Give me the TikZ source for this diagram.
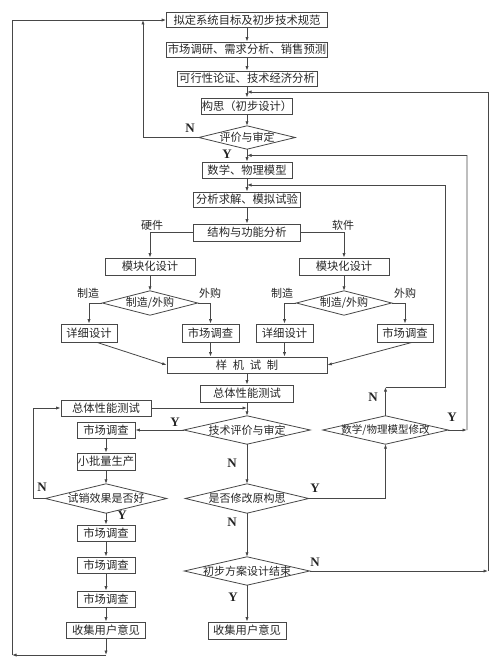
\documentclass[tikz,border=0pt]{standalone}
\usepackage{fontspec}
\setmainfont{Liberation Serif}
\newfontfamily\cjk{Noto Sans CJK SC}
\usetikzlibrary{arrows.meta,calc}
\begin{document}
\begin{tikzpicture}[x=1pt,y=-1pt,
  ln/.style={draw=black!72, line width=0.8pt},
  arr/.style={ln, -{Latex[length=4.5pt,width=3.2pt]}},
  box/.style={draw=black!72, line width=0.8pt, inner sep=0pt, font=\cjk\fontsize{11.3}{13}\selectfont, text=black!85},
  dia/.style={inner sep=0pt, font=\cjk\fontsize{11}{12}\selectfont, text=black!85},
  lab/.style={font=\bfseries\fontsize{13}{14}\selectfont, text=black!85, inner sep=0pt},
  clab/.style={font=\cjk\fontsize{11}{13}\selectfont, text=black!85, inner sep=0pt}]
\useasboundingbox (0,0) rectangle (500,658);

% main column
\node[box, minimum width=161, minimum height=15] (b1) at (247,20) {拟定系统目标及初步技术规范};
\node[box, minimum width=161, minimum height=15] (b2) at (247,49.5) {市场调研、需求分析、销售预测};
\node[box, minimum width=140, minimum height=15] (b3) at (247,78.5) {可行性论证、技术经济分析};
\node[box, minimum width=89, minimum height=16] (b4) at (247,106) {构思（初步设计）};
\node[dia, minimum width=96, minimum height=23] (d1) at (247,137.5) {评价与审定};
\node[box, minimum width=90, minimum height=16] (b5) at (247,170) {数学、物理模型};
\node[box, minimum width=107, minimum height=15] (b6) at (247,199.5) {分析求解、模拟试验};
\node[box, minimum width=107, minimum height=17] (b7) at (247,232.5) {结构与功能分析};

% branches
\node[box, minimum width=90, minimum height=17] (b8L) at (150,266.5) {模块化设计};
\node[box, minimum width=90, minimum height=17] (b8R) at (344,266.5) {模块化设计};
\node[dia, minimum width=95, minimum height=24] (d2L) at (150,303) {制造/外购};
\node[dia, minimum width=95, minimum height=24] (d2R) at (344,303) {制造/外购};
\node[box, minimum width=56, minimum height=18] (b9a) at (89,333) {详细设计};
\node[box, minimum width=57, minimum height=18] (b9b) at (210.5,333) {市场调查};
\node[box, minimum width=57, minimum height=18] (b9c) at (284.5,333) {详细设计};
\node[box, minimum width=56, minimum height=18] (b9d) at (405,333) {市场调查};
\node[box, minimum width=160, minimum height=16] (b10) at (247,365) {样\hspace{0.5em}机\hspace{0.5em}试\hspace{0.5em}制};
\node[box, minimum width=93, minimum height=17] (b11) at (247,393.5) {总体性能测试};

% lower part
\node[box, minimum width=90, minimum height=16] (b12) at (106,408) {总体性能测试};
\node[dia, minimum width=126, minimum height=28] (d3) at (247,430) {技术评价与审定};
\node[box, minimum width=58, minimum height=16] (b13) at (106,430) {市场调查};
\node[box, minimum width=58, minimum height=17] (b14) at (106,461.5) {小批量生产};
\node[dia, minimum width=121, minimum height=29] (d4) at (106,498.5) {试销效果是否好};
\node[dia, minimum width=123, minimum height=29] (d5) at (247,498.5) {是否修改原构思};
\node[dia, minimum width=125, minimum height=28, font=\cjk\fontsize{10.5}{12}\selectfont] (d6) at (385.5,430) {数学/物理模型修改};
\node[box, minimum width=58, minimum height=16] (b15) at (106,533) {市场调查};
\node[box, minimum width=58, minimum height=16] (b16) at (106,565) {市场调查};
\node[box, minimum width=58, minimum height=16] (b17) at (106,599) {市场调查};
\node[box, minimum width=79, minimum height=16] (b18) at (106,630) {收集用户意见};
\node[dia, minimum width=125, minimum height=28] (d7) at (247,571) {初步方案设计结束};
\node[box, minimum width=78, minimum height=17] (b19) at (247,630.5) {收集用户意见};

% diamonds outlines
\foreach \d in {d1,d2L,d2R,d3,d4,d5,d6,d7}
  \draw[ln] (\d.west) -- (\d.north) -- (\d.east) -- (\d.south) -- cycle;

% coordinates
\coordinate (LB) at (12,655);
\coordinate (n1) at (143,20);
\coordinate (m34) at ($(b3.south)!.5!(b4.north)$);
\coordinate (md1) at ($(d1.south)!.5!(b5.north)$);
\coordinate (m56) at ($(b5.south)!.5!(b6.north)$);
\coordinate (c445) at (445,387);
\coordinate (c467) at (467,155.5);
\coordinate (c488) at (488,92);

% main flow
\draw[arr] (b1) -- (b2);
\draw[arr] (b2) -- (b3);
\draw[arr] (b3) -- (b4);
\draw[arr] (b4) -- (d1.north);
\draw[arr] (d1.south) -- (b5);
\draw[arr] (b5) -- (b6);
\draw[arr] (b6) -- (b7);
\draw[arr] (b7.west) -| (b8L.north);
\draw[arr] (b7.east) -| (b8R.north);
\draw[arr] (b8L) -- (d2L.north);
\draw[arr] (b8R) -- (d2R.north);
\draw[arr] (d2L.west) -| (b9a.north);
\draw[arr] (d2L.east) -| (b9b.north);
\draw[arr] (d2R.west) -| (b9c.north);
\draw[arr] (d2R.east) -| (b9d.north);
\draw[arr] ($(b9a.south)+(8,0)$) -- (b10.west);
\draw[arr] (b9b.south) -- (b9b.south |- b10.north);
\draw[arr] (b9c.south) -- (b9c.south |- b10.north);
\draw[arr] ($(b9d.south)+(7,0)$) -- (b10.east);
\draw[arr] (b10) -- (b11);
\draw[arr] (b11) -- (d3.north);
\draw[arr] (b12.east) -- (b12.east -| d3.north);
\draw[arr] (d3.west) -- (b13.east);
\draw[arr] (b13) -- (b14);
\draw[arr] (b14) -- (d4.north);
\draw[arr] (d4.south) -- (b15);
\draw[arr] (b15) -- (b16);
\draw[arr] (b16) -- (b17);
\draw[arr] (b17) -- (b18);
\draw[arr] (d4.west) -- ++(-12,0) |- (b12.west);
\draw[arr] (b18.south) -- (b18.south |- LB);
\draw[arr] (b18.south |- LB) -- (LB);
\draw[arr] (LB) |- (b1.west);
\draw[arr] (d1.west) -| (n1);
\draw[arr] (d3.south) -- (d5.north);
\draw[arr] (d5.south) -- (d7.north);
\draw[arr] (d7.south) -- (b19);
\draw[arr] (d5.east) -| (d6.south);
\draw[arr] (d6.north) -- (d6.north |- c445);
\draw[arr] (d6.north |- c445) -- (c445) -- (c445 |- m56) -- (m56);
\draw[arr] (d6.east) -- (d6.east -| c467);
\draw[arr] (d6.east -| c467) -- (c467) -- (md1);
\draw[arr] (d7.east) -- (d7.east -| c488);
\draw[arr] (d7.east -| c488) -- (c488) -- (m34);

% labels
\node[lab] (lN1) at (190,128) {N};
\node[lab] (lY1) at (227,154) {Y};
\node[clab] (lhw) at (152,225) {硬件};
\node[clab] (lsw) at (343,225) {软件};
\node[clab] (lz1) at (88,293) {制造};
\node[clab] (lw1) at (210,293) {外购};
\node[clab] (lz2) at (282,293) {制造};
\node[clab] (lw2) at (405,293) {外购};
\node[lab] (lY2) at (175,422) {Y};
\node[lab] (lN2) at (232,463) {N};
\node[lab] (lY3) at (315,488) {Y};
\node[lab] (lN3) at (373,397) {N};
\node[lab] (lY4) at (452,417) {Y};
\node[lab] (lN4) at (42,487) {N};
\node[lab] (lY5) at (122,515) {Y};
\node[lab] (lN5) at (232,522) {N};
\node[lab] (lN6) at (315,562) {N};
\node[lab] (lY6) at (233,597) {Y};
\end{tikzpicture}
\end{document}
